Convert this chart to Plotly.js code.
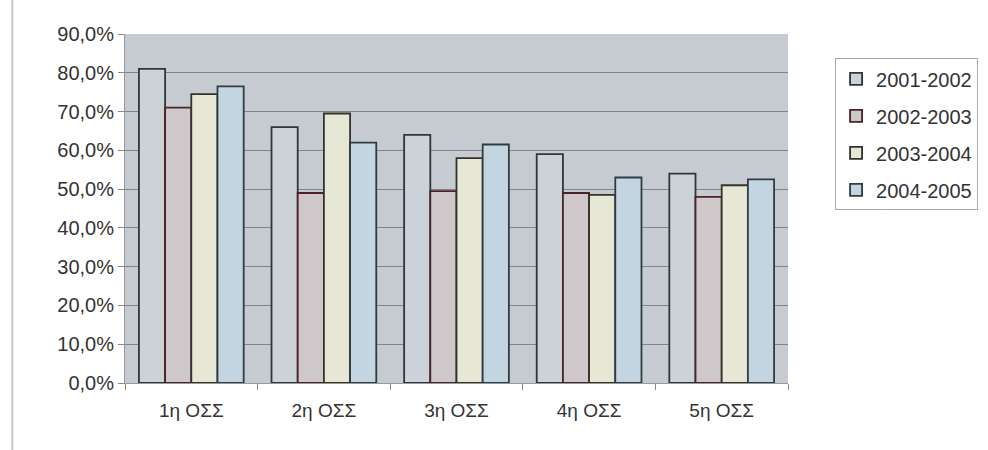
<!DOCTYPE html>
<html>
<head>
<meta charset="utf-8">
<script src="https://cdn.plot.ly/plotly-3.0.1.min.js"></script>
<style>html,body{margin:0;padding:0;background:#fff;}#chart{width:988px;height:450px;}</style>
</head>
<body>
<div id="chart"></div>
<script>
const categories = ["1η ΟΣΣ", "2η ΟΣΣ", "3η ΟΣΣ", "4η ΟΣΣ", "5η ΟΣΣ"];
const seriesNames = ["2001-2002", "2002-2003", "2003-2004", "2004-2005"];
const s2001 = [81.0, 66.0, 64.0, 59.0, 54.0];
const s2002 = [71.0, 49.0, 49.5, 49.0, 48.0];
const s2003 = [74.5, 69.5, 58.0, 48.5, 51.0];
const s2004 = [76.5, 62.0, 61.5, 53.0, 52.5];
const yTicks = [0, 10, 20, 30, 40, 50, 60, 70, 80, 90];
const yTickLabels = ["0,0%", "10,0%", "20,0%", "30,0%", "40,0%", "50,0%", "60,0%", "70,0%", "80,0%", "90,0%"];

const values = [s2001, s2002, s2003, s2004];
const fills = ["#cbd2d8", "#cec8cb", "#e6e7d4", "#c4d5e2"];
const outlines = ["#30363a", "#4a2228", "#33332a", "#2e3c44"];

const traces = values.map((v, i) => ({
  type: "bar",
  name: seriesNames[i],
  legendgroup: seriesNames[i],
  x: categories,
  y: v,
  marker: { color: fills[i], line: { color: outlines[i], width: 1.8 } },
  hoverinfo: "skip"
}));

const layout = {
  width: 988, height: 450,
  margin: { l: 125, r: 200, t: 34, b: 67, autoexpand: false },
  paper_bgcolor: "#ffffff",
  plot_bgcolor: "#c5cbd0",
  barmode: "group",
  bargap: 0.21,
  bargroupgap: 0,
  font: { family: "Liberation Sans, Arial, sans-serif", size: 19, color: "#333" },
  xaxis: {
    type: "category",
    tickson: "boundaries",
    ticks: "outside", ticklen: 6, tickcolor: "#888",
    showline: true, linecolor: "#999", linewidth: 1,
    showgrid: false,
    ticklabelstandoff: 10,
    tickfont: { size: 19, color: "#333" }
  },
  yaxis: {
    range: [0, 90],
    tickvals: yTicks,
    ticktext: yTickLabels,
    ticks: "outside", ticklen: 6, tickcolor: "#888",
    showline: true, linecolor: "#999", linewidth: 1,
    gridcolor: "#7f868b", gridwidth: 1,
    zeroline: false,
    tickfont: { size: 20, color: "#333" }
  },
  legend: {
    x: 1.071, y: 0.93, xanchor: "left", yanchor: "top",
    bgcolor: "#ffffff", bordercolor: "#aaa", borderwidth: 1,
    font: { size: 20, color: "#333" },
    traceorder: "grouped",
    tracegroupgap: 8, itemwidth: 30
  },
  shapes: [
    { type: "line", xref: "paper", yref: "paper", x0: -0.17, x1: -0.17, y0: -0.2, y1: 1.1,
      line: { color: "#c8c8c8", width: 2 } }
  ],
  showlegend: true
};

Plotly.newPlot("chart", traces, layout, { displayModeBar: false, staticPlot: true });
</script>
</body>
</html>
